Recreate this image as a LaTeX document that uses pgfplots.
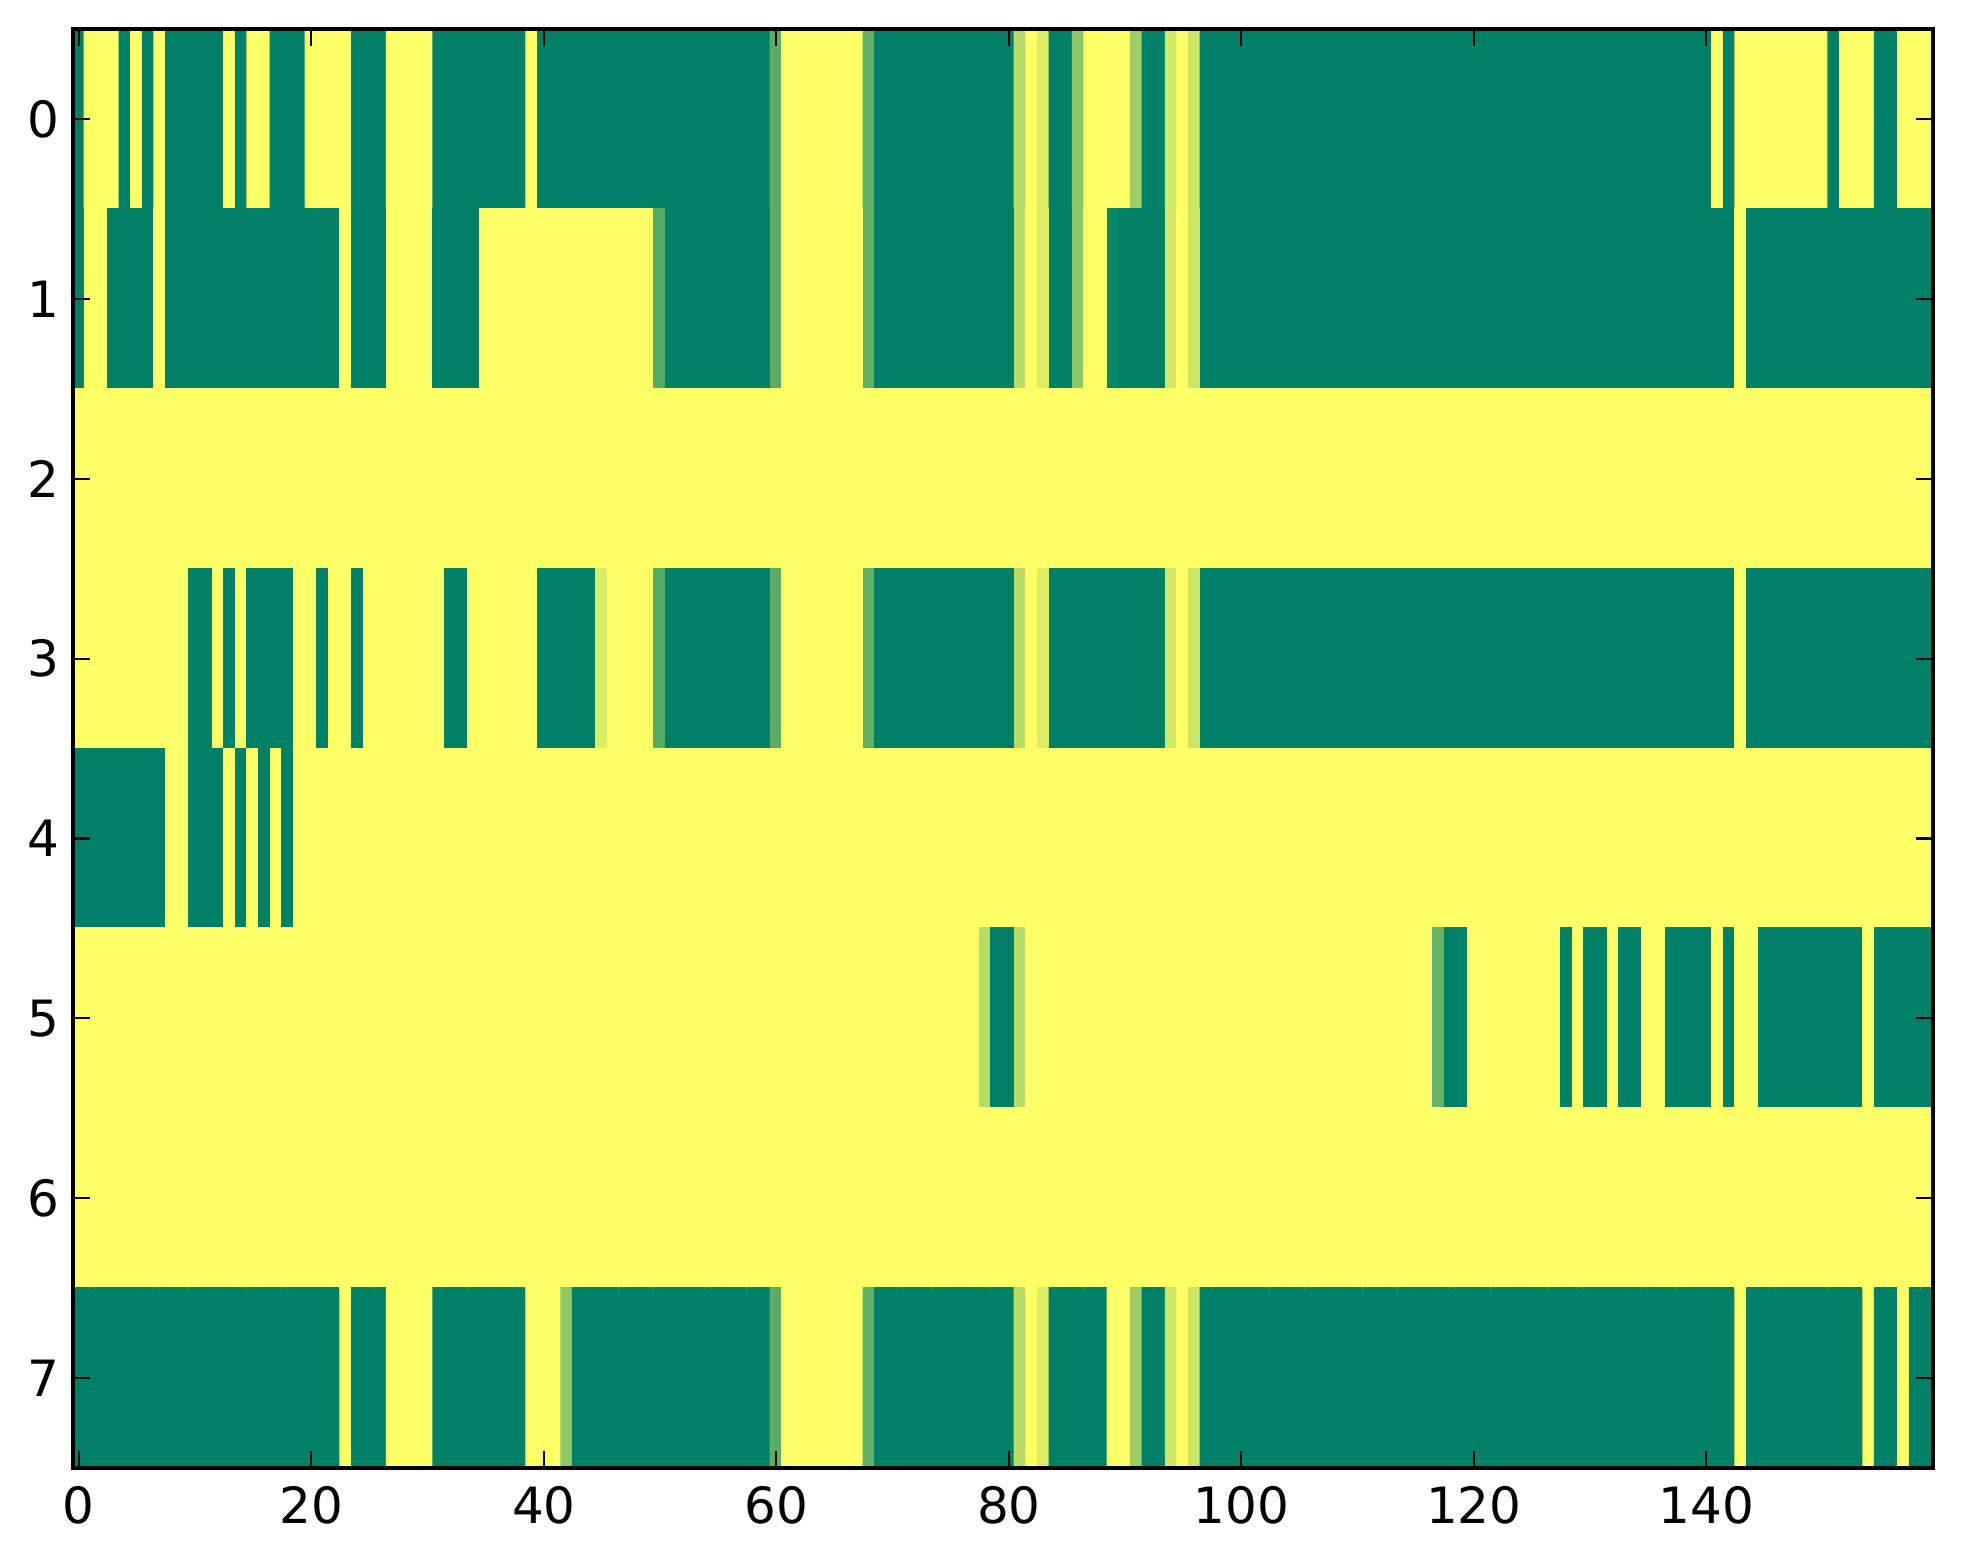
\documentclass[border=0pt]{standalone}
\usepackage{fontspec}
\setmainfont{DejaVu Sans}
\usepackage{pgfplots}
\usepackage{pgfplotstable}
\pgfplotsset{compat=1.18}
\pgfplotstableread[row sep=\\]{
x y c\\
0 0 0\\1 0 1\\2 0 1\\3 0 1\\4 0 0\\5 0 1\\6 0 0\\7 0 1\\8 0 0\\9 0 0\\
10 0 0\\11 0 0\\12 0 0\\13 0 1\\14 0 0\\15 0 1\\16 0 1\\17 0 0\\18 0 0\\19 0 0\\
20 0 1\\21 0 1\\22 0 1\\23 0 1\\24 0 0\\25 0 0\\26 0 0\\27 0 1\\28 0 1\\29 0 1\\
30 0 1\\31 0 0\\32 0 0\\33 0 0\\34 0 0\\35 0 0\\36 0 0\\37 0 0\\38 0 0\\39 0 1\\
40 0 0\\41 0 0\\42 0 0\\43 0 0\\44 0 0\\45 0 0\\46 0 0\\47 0 0\\48 0 0\\49 0 0\\
50 0 0\\51 0 0\\52 0 0\\53 0 0\\54 0 0\\55 0 0\\56 0 0\\57 0 0\\58 0 0\\59 0 0\\
60 0 0.35\\61 0 1\\62 0 1\\63 0 1\\64 0 1\\65 0 1\\66 0 1\\67 0 1\\68 0 0.38\\69 0 0\\
70 0 0\\71 0 0\\72 0 0\\73 0 0\\74 0 0\\75 0 0\\76 0 0\\77 0 0\\78 0 0\\79 0 0\\
80 0 0\\81 0 0.72\\82 0 1\\83 0 0.86\\84 0 0\\85 0 0\\86 0 0.55\\87 0 1\\88 0 1\\89 0 1\\
90 0 1\\91 0 0.61\\92 0 0\\93 0 0\\94 0 0.81\\95 0 1\\96 0 0.8\\97 0 0\\98 0 0\\99 0 0\\
100 0 0\\101 0 0\\102 0 0\\103 0 0\\104 0 0\\105 0 0\\106 0 0\\107 0 0\\108 0 0\\109 0 0\\
110 0 0\\111 0 0\\112 0 0\\113 0 0\\114 0 0\\115 0 0\\116 0 0\\117 0 0\\118 0 0\\119 0 0\\
120 0 0\\121 0 0\\122 0 0\\123 0 0\\124 0 0\\125 0 0\\126 0 0\\127 0 0\\128 0 0\\129 0 0\\
130 0 0\\131 0 0\\132 0 0\\133 0 0\\134 0 0\\135 0 0\\136 0 0\\137 0 0\\138 0 0\\139 0 0\\
140 0 0\\141 0 1\\142 0 0\\143 0 1\\144 0 1\\145 0 1\\146 0 1\\147 0 1\\148 0 1\\149 0 1\\
150 0 1\\151 0 0\\152 0 1\\153 0 1\\154 0 1\\155 0 0\\156 0 0\\157 0 1\\158 0 1\\159 0 1\\
0 1 0\\1 1 1\\2 1 1\\3 1 0\\4 1 0\\5 1 0\\6 1 0\\7 1 1\\8 1 0\\9 1 0\\
10 1 0\\11 1 0\\12 1 0\\13 1 0\\14 1 0\\15 1 0\\16 1 0\\17 1 0\\18 1 0\\19 1 0\\
20 1 0\\21 1 0\\22 1 0\\23 1 1\\24 1 0\\25 1 0\\26 1 0\\27 1 1\\28 1 1\\29 1 1\\
30 1 1\\31 1 0\\32 1 0\\33 1 0\\34 1 0\\35 1 1\\36 1 1\\37 1 1\\38 1 1\\39 1 1\\
40 1 1\\41 1 1\\42 1 1\\43 1 1\\44 1 1\\45 1 1\\46 1 1\\47 1 1\\48 1 1\\49 1 1\\
50 1 0.33\\51 1 0\\52 1 0\\53 1 0\\54 1 0\\55 1 0\\56 1 0\\57 1 0\\58 1 0\\59 1 0\\
60 1 0.35\\61 1 1\\62 1 1\\63 1 1\\64 1 1\\65 1 1\\66 1 1\\67 1 1\\68 1 0.38\\69 1 0\\
70 1 0\\71 1 0\\72 1 0\\73 1 0\\74 1 0\\75 1 0\\76 1 0\\77 1 0\\78 1 0\\79 1 0\\
80 1 0\\81 1 0.72\\82 1 1\\83 1 0.86\\84 1 0\\85 1 0\\86 1 0.55\\87 1 1\\88 1 1\\89 1 0.04\\
90 1 0\\91 1 0\\92 1 0\\93 1 0\\94 1 0.81\\95 1 1\\96 1 0.8\\97 1 0\\98 1 0\\99 1 0\\
100 1 0\\101 1 0\\102 1 0\\103 1 0\\104 1 0\\105 1 0\\106 1 0\\107 1 0\\108 1 0\\109 1 0\\
110 1 0\\111 1 0\\112 1 0\\113 1 0\\114 1 0\\115 1 0\\116 1 0\\117 1 0\\118 1 0\\119 1 0\\
120 1 0\\121 1 0\\122 1 0\\123 1 0\\124 1 0\\125 1 0\\126 1 0\\127 1 0\\128 1 0\\129 1 0\\
130 1 0\\131 1 0\\132 1 0\\133 1 0\\134 1 0\\135 1 0\\136 1 0\\137 1 0\\138 1 0\\139 1 0\\
140 1 0\\141 1 0\\142 1 0\\143 1 1\\144 1 0\\145 1 0\\146 1 0\\147 1 0\\148 1 0\\149 1 0\\
150 1 0\\151 1 0\\152 1 0\\153 1 0\\154 1 0\\155 1 0\\156 1 0\\157 1 0\\158 1 0\\159 1 0\\
0 2 1\\1 2 1\\2 2 1\\3 2 1\\4 2 1\\5 2 1\\6 2 1\\7 2 1\\8 2 1\\9 2 1\\
10 2 1\\11 2 1\\12 2 1\\13 2 1\\14 2 1\\15 2 1\\16 2 1\\17 2 1\\18 2 1\\19 2 1\\
20 2 1\\21 2 1\\22 2 1\\23 2 1\\24 2 1\\25 2 1\\26 2 1\\27 2 1\\28 2 1\\29 2 1\\
30 2 1\\31 2 1\\32 2 1\\33 2 1\\34 2 1\\35 2 1\\36 2 1\\37 2 1\\38 2 1\\39 2 1\\
40 2 1\\41 2 1\\42 2 1\\43 2 1\\44 2 1\\45 2 1\\46 2 1\\47 2 1\\48 2 1\\49 2 1\\
50 2 1\\51 2 1\\52 2 1\\53 2 1\\54 2 1\\55 2 1\\56 2 1\\57 2 1\\58 2 1\\59 2 1\\
60 2 1\\61 2 1\\62 2 1\\63 2 1\\64 2 1\\65 2 1\\66 2 1\\67 2 1\\68 2 1\\69 2 1\\
70 2 1\\71 2 1\\72 2 1\\73 2 1\\74 2 1\\75 2 1\\76 2 1\\77 2 1\\78 2 1\\79 2 1\\
80 2 1\\81 2 1\\82 2 1\\83 2 1\\84 2 1\\85 2 1\\86 2 1\\87 2 1\\88 2 1\\89 2 1\\
90 2 1\\91 2 1\\92 2 1\\93 2 1\\94 2 1\\95 2 1\\96 2 1\\97 2 1\\98 2 1\\99 2 1\\
100 2 1\\101 2 1\\102 2 1\\103 2 1\\104 2 1\\105 2 1\\106 2 1\\107 2 1\\108 2 1\\109 2 1\\
110 2 1\\111 2 1\\112 2 1\\113 2 1\\114 2 1\\115 2 1\\116 2 1\\117 2 1\\118 2 1\\119 2 1\\
120 2 1\\121 2 1\\122 2 1\\123 2 1\\124 2 1\\125 2 1\\126 2 1\\127 2 1\\128 2 1\\129 2 1\\
130 2 1\\131 2 1\\132 2 1\\133 2 1\\134 2 1\\135 2 1\\136 2 1\\137 2 1\\138 2 1\\139 2 1\\
140 2 1\\141 2 1\\142 2 1\\143 2 1\\144 2 1\\145 2 1\\146 2 1\\147 2 1\\148 2 1\\149 2 1\\
150 2 1\\151 2 1\\152 2 1\\153 2 1\\154 2 1\\155 2 1\\156 2 1\\157 2 1\\158 2 1\\159 2 1\\
0 3 1\\1 3 1\\2 3 1\\3 3 1\\4 3 1\\5 3 1\\6 3 1\\7 3 1\\8 3 1\\9 3 1\\
10 3 0\\11 3 0\\12 3 1\\13 3 0\\14 3 1\\15 3 0\\16 3 0\\17 3 0\\18 3 0\\19 3 1\\
20 3 1\\21 3 0\\22 3 1\\23 3 1\\24 3 0\\25 3 1\\26 3 1\\27 3 1\\28 3 1\\29 3 1\\
30 3 1\\31 3 1\\32 3 0\\33 3 0\\34 3 1\\35 3 1\\36 3 1\\37 3 1\\38 3 1\\39 3 1\\
40 3 0\\41 3 0\\42 3 0\\43 3 0\\44 3 0\\45 3 0.85\\46 3 1\\47 3 1\\48 3 1\\49 3 1\\
50 3 0.33\\51 3 0\\52 3 0\\53 3 0\\54 3 0\\55 3 0\\56 3 0\\57 3 0\\58 3 0\\59 3 0\\
60 3 0.35\\61 3 1\\62 3 1\\63 3 1\\64 3 1\\65 3 1\\66 3 1\\67 3 1\\68 3 0.38\\69 3 0\\
70 3 0\\71 3 0\\72 3 0\\73 3 0\\74 3 0\\75 3 0\\76 3 0\\77 3 0\\78 3 0\\79 3 0\\
80 3 0\\81 3 0.72\\82 3 1\\83 3 0.86\\84 3 0\\85 3 0\\86 3 0\\87 3 0\\88 3 0\\89 3 0\\
90 3 0\\91 3 0\\92 3 0\\93 3 0\\94 3 0.81\\95 3 1\\96 3 0.8\\97 3 0\\98 3 0\\99 3 0\\
100 3 0\\101 3 0\\102 3 0\\103 3 0\\104 3 0\\105 3 0\\106 3 0\\107 3 0\\108 3 0\\109 3 0\\
110 3 0\\111 3 0\\112 3 0\\113 3 0\\114 3 0\\115 3 0\\116 3 0\\117 3 0\\118 3 0\\119 3 0\\
120 3 0\\121 3 0\\122 3 0\\123 3 0\\124 3 0\\125 3 0\\126 3 0\\127 3 0\\128 3 0\\129 3 0\\
130 3 0\\131 3 0\\132 3 0\\133 3 0\\134 3 0\\135 3 0\\136 3 0\\137 3 0\\138 3 0\\139 3 0\\
140 3 0\\141 3 0\\142 3 0\\143 3 1\\144 3 0\\145 3 0\\146 3 0\\147 3 0\\148 3 0\\149 3 0\\
150 3 0\\151 3 0\\152 3 0\\153 3 0\\154 3 0\\155 3 0\\156 3 0\\157 3 0\\158 3 0\\159 3 0\\
0 4 0\\1 4 0\\2 4 0\\3 4 0\\4 4 0\\5 4 0\\6 4 0\\7 4 0\\8 4 1\\9 4 1\\
10 4 0\\11 4 0\\12 4 0\\13 4 1\\14 4 0\\15 4 1\\16 4 0\\17 4 1\\18 4 0\\19 4 1\\
20 4 1\\21 4 1\\22 4 1\\23 4 1\\24 4 1\\25 4 1\\26 4 1\\27 4 1\\28 4 1\\29 4 1\\
30 4 1\\31 4 1\\32 4 1\\33 4 1\\34 4 1\\35 4 1\\36 4 1\\37 4 1\\38 4 1\\39 4 1\\
40 4 1\\41 4 1\\42 4 1\\43 4 1\\44 4 1\\45 4 1\\46 4 1\\47 4 1\\48 4 1\\49 4 1\\
50 4 1\\51 4 1\\52 4 1\\53 4 1\\54 4 1\\55 4 1\\56 4 1\\57 4 1\\58 4 1\\59 4 1\\
60 4 1\\61 4 1\\62 4 1\\63 4 1\\64 4 1\\65 4 1\\66 4 1\\67 4 1\\68 4 1\\69 4 1\\
70 4 1\\71 4 1\\72 4 1\\73 4 1\\74 4 1\\75 4 1\\76 4 1\\77 4 1\\78 4 1\\79 4 1\\
80 4 1\\81 4 1\\82 4 1\\83 4 1\\84 4 1\\85 4 1\\86 4 1\\87 4 1\\88 4 1\\89 4 1\\
90 4 1\\91 4 1\\92 4 1\\93 4 1\\94 4 1\\95 4 1\\96 4 1\\97 4 1\\98 4 1\\99 4 1\\
100 4 1\\101 4 1\\102 4 1\\103 4 1\\104 4 1\\105 4 1\\106 4 1\\107 4 1\\108 4 1\\109 4 1\\
110 4 1\\111 4 1\\112 4 1\\113 4 1\\114 4 1\\115 4 1\\116 4 1\\117 4 1\\118 4 1\\119 4 1\\
120 4 1\\121 4 1\\122 4 1\\123 4 1\\124 4 1\\125 4 1\\126 4 1\\127 4 1\\128 4 1\\129 4 1\\
130 4 1\\131 4 1\\132 4 1\\133 4 1\\134 4 1\\135 4 1\\136 4 1\\137 4 1\\138 4 1\\139 4 1\\
140 4 1\\141 4 1\\142 4 1\\143 4 1\\144 4 1\\145 4 1\\146 4 1\\147 4 1\\148 4 1\\149 4 1\\
150 4 1\\151 4 1\\152 4 1\\153 4 1\\154 4 1\\155 4 1\\156 4 1\\157 4 1\\158 4 1\\159 4 1\\
0 5 1\\1 5 1\\2 5 1\\3 5 1\\4 5 1\\5 5 1\\6 5 1\\7 5 1\\8 5 1\\9 5 1\\
10 5 1\\11 5 1\\12 5 1\\13 5 1\\14 5 1\\15 5 1\\16 5 1\\17 5 1\\18 5 1\\19 5 1\\
20 5 1\\21 5 1\\22 5 1\\23 5 1\\24 5 1\\25 5 1\\26 5 1\\27 5 1\\28 5 1\\29 5 1\\
30 5 1\\31 5 1\\32 5 1\\33 5 1\\34 5 1\\35 5 1\\36 5 1\\37 5 1\\38 5 1\\39 5 1\\
40 5 1\\41 5 1\\42 5 1\\43 5 1\\44 5 1\\45 5 1\\46 5 1\\47 5 1\\48 5 1\\49 5 1\\
50 5 1\\51 5 1\\52 5 1\\53 5 1\\54 5 1\\55 5 1\\56 5 1\\57 5 1\\58 5 1\\59 5 1\\
60 5 1\\61 5 1\\62 5 1\\63 5 1\\64 5 1\\65 5 1\\66 5 1\\67 5 1\\68 5 1\\69 5 1\\
70 5 1\\71 5 1\\72 5 1\\73 5 1\\74 5 1\\75 5 1\\76 5 1\\77 5 1\\78 5 0.72\\79 5 0\\
80 5 0\\81 5 0.72\\82 5 1\\83 5 1\\84 5 1\\85 5 1\\86 5 1\\87 5 1\\88 5 1\\89 5 1\\
90 5 1\\91 5 1\\92 5 1\\93 5 1\\94 5 1\\95 5 1\\96 5 1\\97 5 1\\98 5 1\\99 5 1\\
100 5 1\\101 5 1\\102 5 1\\103 5 1\\104 5 1\\105 5 1\\106 5 1\\107 5 1\\108 5 1\\109 5 1\\
110 5 1\\111 5 1\\112 5 1\\113 5 1\\114 5 1\\115 5 1\\116 5 1\\117 5 0.4\\118 5 0\\119 5 0\\
120 5 1\\121 5 1\\122 5 1\\123 5 1\\124 5 1\\125 5 1\\126 5 1\\127 5 1\\128 5 0\\129 5 1\\
130 5 0\\131 5 0\\132 5 1\\133 5 0\\134 5 0\\135 5 1\\136 5 1\\137 5 0\\138 5 0\\139 5 0\\
140 5 0\\141 5 1\\142 5 0\\143 5 1\\144 5 1\\145 5 0\\146 5 0\\147 5 0\\148 5 0\\149 5 0\\
150 5 0\\151 5 0\\152 5 0\\153 5 0\\154 5 1\\155 5 0\\156 5 0\\157 5 0\\158 5 0\\159 5 0\\
0 6 1\\1 6 1\\2 6 1\\3 6 1\\4 6 1\\5 6 1\\6 6 1\\7 6 1\\8 6 1\\9 6 1\\
10 6 1\\11 6 1\\12 6 1\\13 6 1\\14 6 1\\15 6 1\\16 6 1\\17 6 1\\18 6 1\\19 6 1\\
20 6 1\\21 6 1\\22 6 1\\23 6 1\\24 6 1\\25 6 1\\26 6 1\\27 6 1\\28 6 1\\29 6 1\\
30 6 1\\31 6 1\\32 6 1\\33 6 1\\34 6 1\\35 6 1\\36 6 1\\37 6 1\\38 6 1\\39 6 1\\
40 6 1\\41 6 1\\42 6 1\\43 6 1\\44 6 1\\45 6 1\\46 6 1\\47 6 1\\48 6 1\\49 6 1\\
50 6 1\\51 6 1\\52 6 1\\53 6 1\\54 6 1\\55 6 1\\56 6 1\\57 6 1\\58 6 1\\59 6 1\\
60 6 1\\61 6 1\\62 6 1\\63 6 1\\64 6 1\\65 6 1\\66 6 1\\67 6 1\\68 6 1\\69 6 1\\
70 6 1\\71 6 1\\72 6 1\\73 6 1\\74 6 1\\75 6 1\\76 6 1\\77 6 1\\78 6 1\\79 6 1\\
80 6 1\\81 6 1\\82 6 1\\83 6 1\\84 6 1\\85 6 1\\86 6 1\\87 6 1\\88 6 1\\89 6 1\\
90 6 1\\91 6 1\\92 6 1\\93 6 1\\94 6 1\\95 6 1\\96 6 1\\97 6 1\\98 6 1\\99 6 1\\
100 6 1\\101 6 1\\102 6 1\\103 6 1\\104 6 1\\105 6 1\\106 6 1\\107 6 1\\108 6 1\\109 6 1\\
110 6 1\\111 6 1\\112 6 1\\113 6 1\\114 6 1\\115 6 1\\116 6 1\\117 6 1\\118 6 1\\119 6 1\\
120 6 1\\121 6 1\\122 6 1\\123 6 1\\124 6 1\\125 6 1\\126 6 1\\127 6 1\\128 6 1\\129 6 1\\
130 6 1\\131 6 1\\132 6 1\\133 6 1\\134 6 1\\135 6 1\\136 6 1\\137 6 1\\138 6 1\\139 6 1\\
140 6 1\\141 6 1\\142 6 1\\143 6 1\\144 6 1\\145 6 1\\146 6 1\\147 6 1\\148 6 1\\149 6 1\\
150 6 1\\151 6 1\\152 6 1\\153 6 1\\154 6 1\\155 6 1\\156 6 1\\157 6 1\\158 6 1\\159 6 1\\
0 7 0\\1 7 0\\2 7 0\\3 7 0\\4 7 0\\5 7 0\\6 7 0\\7 7 0\\8 7 0\\9 7 0\\
10 7 0\\11 7 0\\12 7 0\\13 7 0\\14 7 0\\15 7 0\\16 7 0\\17 7 0\\18 7 0\\19 7 0\\
20 7 0\\21 7 0\\22 7 0\\23 7 1\\24 7 0\\25 7 0\\26 7 0\\27 7 1\\28 7 1\\29 7 1\\
30 7 1\\31 7 0\\32 7 0\\33 7 0\\34 7 0\\35 7 0\\36 7 0\\37 7 0\\38 7 0\\39 7 1\\
40 7 1\\41 7 1\\42 7 0.56\\43 7 0\\44 7 0\\45 7 0\\46 7 0\\47 7 0\\48 7 0\\49 7 0\\
50 7 0\\51 7 0\\52 7 0\\53 7 0\\54 7 0\\55 7 0\\56 7 0\\57 7 0\\58 7 0\\59 7 0\\
60 7 0.35\\61 7 1\\62 7 1\\63 7 1\\64 7 1\\65 7 1\\66 7 1\\67 7 1\\68 7 0.38\\69 7 0\\
70 7 0\\71 7 0\\72 7 0\\73 7 0\\74 7 0\\75 7 0\\76 7 0\\77 7 0\\78 7 0\\79 7 0\\
80 7 0\\81 7 0.72\\82 7 1\\83 7 0.86\\84 7 0\\85 7 0\\86 7 0\\87 7 0\\88 7 0\\89 7 0.96\\
90 7 1\\91 7 0.6\\92 7 0\\93 7 0\\94 7 0.8\\95 7 1\\96 7 0.8\\97 7 0\\98 7 0\\99 7 0\\
100 7 0\\101 7 0\\102 7 0\\103 7 0\\104 7 0\\105 7 0\\106 7 0\\107 7 0\\108 7 0\\109 7 0\\
110 7 0\\111 7 0\\112 7 0\\113 7 0\\114 7 0\\115 7 0\\116 7 0\\117 7 0\\118 7 0\\119 7 0\\
120 7 0\\121 7 0\\122 7 0\\123 7 0\\124 7 0\\125 7 0\\126 7 0\\127 7 0\\128 7 0\\129 7 0\\
130 7 0\\131 7 0\\132 7 0\\133 7 0\\134 7 0\\135 7 0\\136 7 0\\137 7 0\\138 7 0\\139 7 0\\
140 7 0\\141 7 0\\142 7 0\\143 7 1\\144 7 0\\145 7 0\\146 7 0\\147 7 0\\148 7 0\\149 7 0\\
150 7 0\\151 7 0\\152 7 0\\153 7 0\\154 7 1\\155 7 0\\156 7 0\\157 7 1\\158 7 0\\159 7 0\\
}\heat
\begin{document}
\begin{tikzpicture}
\begin{axis}[
  width=372pt, height=287.8pt, scale only axis,
  xmin=-0.5, xmax=159.5, ymin=-0.5, ymax=7.5,
  y dir=reverse,
  enlargelimits=false,
  axis on top,
  colormap={summer}{rgb=(0,0.5,0.4) rgb=(1,1,0.4)},
  point meta min=0, point meta max=1,
  xtick={0,20,...,140}, ytick={0,1,...,7},
  tick align=inside,
  major tick length=3.33pt,
  every tick/.style={black, line width=0.42pt},
  axis line style={line width=0.83pt},
  tick label style={font=\fontsize{10}{12}\selectfont},
  /pgf/number format/assume math mode=true,
  xticklabel style={inner sep=0pt, yshift=-3.5pt},
  yticklabel style={inner sep=0pt, xshift=-2.6pt},
]
\addplot[matrix plot*, mesh/cols=160, point meta=explicit] table[x=x, y=y, meta=c] {\heat};
\end{axis}
\pgfresetboundingbox
\path ([shift={(-14.6pt,-19pt)}]current axis.south west) rectangle ([shift={(6pt,5.8pt)}]current axis.north east);
\end{tikzpicture}
\end{document}
